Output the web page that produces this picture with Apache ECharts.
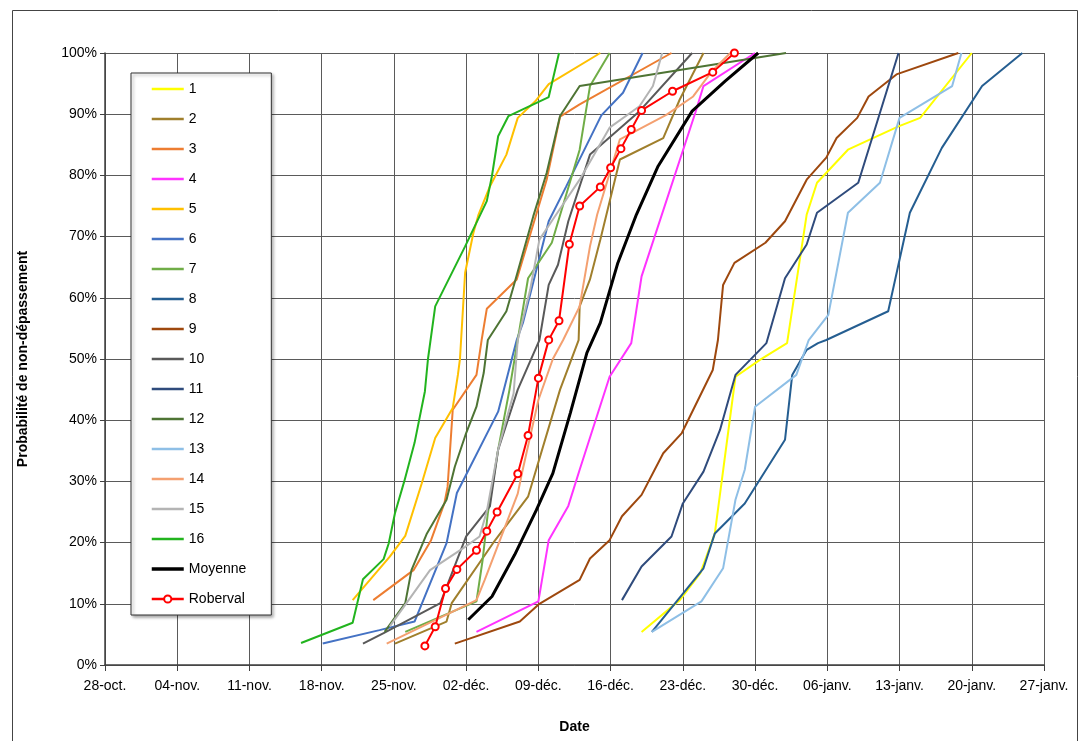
<!DOCTYPE html>
<html>
<head>
<meta charset="utf-8">
<script src="https://cdn.jsdelivr.net/npm/echarts@6/dist/echarts.min.js"></script>
<style>
html,body{margin:0;padding:0;background:#fff;}
#chart{width:1079px;height:741px;}
</style>
</head>
<body>
<div id="chart"></div>
<script>
// x = days since 28-oct, y = probability (%)
const tickLabels = ['28-oct.','04-nov.','11-nov.','18-nov.','25-nov.','02-déc.','09-déc.','16-déc.','23-déc.','30-déc.','06-janv.','13-janv.','20-janv.','27-janv.'];
const seriesNames = ['1','2','3','4','5','6','7','8','9','10','11','12','13','14','15','16','Moyenne','Roberval'];

const s1 = [[52.0,5.4],[55.7,10.6],[57.7,15.0],[59.1,21.5],[61.1,47.1],[63.5,49.9],[66.1,52.6],[68.0,73.6],[69.0,78.8],[72.0,84.2],[76.9,88.0],[79.0,89.4],[84.0,100]];
const s2 = [[28.1,3.5],[33.1,7.1],[33.6,10.1],[37.6,19.9],[41.0,27.5],[44.1,45.0],[45.9,53.1],[46.0,58.6],[47.0,63.0],[48.0,69.5],[49.9,82.6],[54.1,86.1],[55.7,92.4],[58.0,100]];
const s3 = [[26.0,10.6],[29.9,15.5],[31.6,20.4],[32.9,26.5],[33.2,29.1],[33.7,41.7],[36.0,47.4],[36.5,53.1],[37.0,58.2],[39.9,63.0],[42.8,79.3],[44.1,89.6],[46.0,91.6],[54.9,100]];
const s4 = [[36.0,5.4],[42.0,10.4],[43.0,20.4],[44.9,26.0],[46.0,31.9],[48.9,47.1],[51.0,52.6],[52.0,63.5],[57.2,90.2],[58.0,94.6],[63.0,100]];
const s5 = [[24.0,10.6],[27.6,17.7],[29.1,21.1],[30.7,29.7],[32.0,37.1],[33.7,42.0],[34.2,47.4],[34.4,50.0],[34.9,64.1],[35.7,70.6],[36.2,73.6],[37.3,78.2],[38.9,83.4],[40.0,89.4],[41.7,92.1],[43.0,94.9],[48.0,100]];
const s6 = [[21.1,3.5],[26.6,5.7],[30.0,7.1],[33.1,19.9],[34.1,28.1],[38.1,41.4],[39.9,53.1],[40.5,55.9],[43.0,72.5],[44.7,78.2],[48.1,89.8],[50.2,93.5],[52.1,100]];
const s7 = [[29.1,5.4],[36.0,10.4],[36.6,17.2],[37.1,24.8],[38.1,35.2],[39.2,45.0],[40.0,53.1],[41.0,63.2],[43.3,69.0],[46.0,84.2],[47.0,94.6],[48.9,100]];
const s8 = [[53.0,5.4],[58.0,15.8],[59.1,21.5],[62.0,26.4],[65.9,36.8],[66.6,47.4],[68.0,51.5],[69.1,52.6],[69.9,53.1],[75.9,57.8],[78.0,73.9],[81.1,84.5],[85.0,94.6],[88.9,100]];
const s9 = [[33.9,3.5],[40.2,7.1],[42.1,10.0],[46.0,13.9],[47.0,17.4],[48.9,20.4],[50.1,24.3],[52.0,27.8],[54.1,34.6],[55.9,37.9],[58.9,48.2],[59.4,53.1],[59.9,62.1],[61.0,65.7],[64.0,69.0],[65.9,72.5],[68.0,79.3],[69.9,82.9],[70.9,86.1],[72.9,89.4],[74.0,92.9],[76.7,96.5],[82.7,100]];
const s10 = [[25.0,3.5],[27.0,5.2],[32.5,10.1],[35.0,21.0],[37.3,25.9],[38.1,35.2],[40.0,45.0],[42.1,53.1],[43.0,62.1],[43.9,65.4],[44.9,72.5],[47.0,83.4],[51.8,90.5],[56.9,100]];
const s11 = [[50.1,10.6],[52.0,16.1],[54.9,21.0],[56.0,26.4],[58.0,31.6],[59.6,38.4],[61.1,47.4],[64.1,52.6],[65.9,63.2],[68.0,68.7],[69.0,73.9],[73.0,78.8],[76.9,100]];
const s12 = [[27.1,5.4],[29.1,10.1],[29.7,15.5],[31.2,21.5],[33.1,27.0],[33.9,32.4],[35.0,37.9],[36.0,42.2],[36.7,47.7],[37.1,53.1],[38.9,57.8],[39.6,61.9],[41.5,73.3],[42.8,80.4],[44.1,89.7],[46.0,94.6],[66.0,100]];
const s13 = [[53.0,5.4],[57.8,10.4],[59.9,15.8],[61.1,27.0],[62.0,31.9],[63.0,42.2],[67.0,47.4],[68.2,53.1],[70.1,57.2],[72.0,73.9],[75.1,78.8],[77.0,89.4],[82.1,94.6],[83.0,100]];
const s14 = [[27.3,3.5],[36.0,10.6],[36.8,13.9],[40.0,28.0],[40.4,31.3],[42.0,43.3],[43.4,50.0],[44.4,53.1],[46.0,58.6],[47.0,68.4],[47.7,73.6],[49.9,85.9],[54.4,89.9],[57.0,92.9],[58.8,97.0],[60.6,100]];
const s15 = [[27.6,6.3],[31.5,15.5],[34.9,19.3],[36.3,21.0],[37.0,25.1],[38.1,35.2],[39.6,44.4],[40.0,53.1],[41.2,61.3],[42.1,69.5],[43.4,72.8],[46.0,79.3],[48.9,87.8],[51.8,91.3],[53.1,94.6],[54.0,100]];
const s16 = [[19.0,3.6],[24.0,6.9],[25.0,14.0],[27.0,17.3],[27.5,19.9],[28.1,24.8],[29.0,30.0],[30.0,36.3],[31.0,44.7],[31.3,50.0],[32.0,58.6],[34.9,68.4],[37.0,75.8],[37.5,79.9],[38.1,86.4],[39.1,89.7],[43.0,92.8],[44.0,100]];
const moyenne = [[35.2,7.4],[37.5,11.2],[39.7,18.0],[41.8,25.3],[43.4,31.3],[45.1,41.2],[46.7,51.0],[48.0,55.9],[49.7,65.7],[51.5,73.6],[53.6,81.5],[56.9,90.5],[60.1,95.4],[63.3,100]];
const robervalDays = [31.0,32.0,33.0,34.1,36.0,37.0,38.0,40.0,41.0,42.0,43.0,44.0,45.0,46.0,48.0,49.0,50.0,51.0,52.0,55.0,58.9,61.0];
const robervalProb = [3.125,6.25,12.5,15.625,18.75,21.875,25,31.25,37.5,46.875,53.125,56.25,68.75,75,78.125,81.25,84.375,87.5,90.625,93.75,96.875,100];

const seriesData = [s1,s2,s3,s4,s5,s6,s7,s8,s9,s10,s11,s12,s13,s14,s15,s16,moyenne,robervalDays.map((d,i)=>[d,robervalProb[i]])];
const colors = ['#FFFF00','#A07F2C','#ED7D31','#FF33FF','#FFC000','#4472C4','#70AD47','#255E91','#9E480E','#595959','#2F4B7C','#4E7434','#8EBFE6','#F4A070','#B4B4B4','#22B41E','#000000','#FF0000'];

const FONT = "'Liberation Sans', Arial, sans-serif";

const series = seriesData.map((d,i)=>{
  const name = seriesNames[i];
  const isRob = name==='Roberval';
  const isMoy = name==='Moyenne';
  return {
    name, type:'line', data:d,
    symbol: isRob ? 'emptyCircle' : 'none',
    symbolSize: isRob ? 7 : 0,
    showSymbol: isRob,
    z: isRob ? 20 : (isMoy ? 15 : 5),
    lineStyle:{color:colors[i], width: isMoy ? 3 : 2},
    itemStyle:{color:colors[i], borderColor:colors[i], borderWidth:1.5},
    emphasis:{disabled:true},
    animation:false
  };
});

const legendData = seriesNames.map(n => n==='Roberval'
  ? {name:n, lineStyle:{width:2.5}}
  : {name:n, itemStyle:{opacity:0}, lineStyle:{width: n==='Moyenne' ? 3.5 : 2.5}});

const chart = echarts.init(document.getElementById('chart'), null, {renderer:'canvas'});
chart.setOption({
  backgroundColor:'#fff',
  animation:false,
  color: colors,
  grid:{left:105, right:35, top:53, bottom:76, containLabel:false},
  xAxis:{
    type:'value', min:0, max:91, interval:7,
    name:'Date', nameLocation:'middle', nameGap:55,
    nameTextStyle:{fontFamily:FONT, fontSize:14, fontWeight:'bold', color:'#000'},
    axisLine:{show:true, lineStyle:{color:'#404040', width:1.5}},
    axisTick:{show:true, length:6, lineStyle:{color:'#404040'}},
    axisLabel:{fontFamily:FONT, fontSize:14, color:'#000', margin:14,
      formatter:(v)=>tickLabels[Math.round(v/7)] || ''},
    splitLine:{show:true, lineStyle:{color:'#5a5a5a', width:1}}
  },
  yAxis:{
    type:'value', min:0, max:100, interval:10,
    name:'Probabilité de non-dépassement', nameLocation:'middle', nameGap:75,
    nameTextStyle:{fontFamily:FONT, fontSize:14, fontWeight:'bold', color:'#000'},
    axisLine:{show:true, lineStyle:{color:'#404040', width:1.5}},
    axisTick:{show:true, length:5, lineStyle:{color:'#404040'}},
    axisLabel:{fontFamily:FONT, fontSize:14, color:'#000', margin:8, formatter:'{value}%'},
    splitLine:{show:true, lineStyle:{color:'#5a5a5a', width:1}}
  },
  legend:{
    orient:'vertical', left:131, top:73,
    data: legendData,
    itemWidth:32, itemHeight:9, itemGap:16,
    padding:[9,25,9,19],
    backgroundColor:'#fff', borderColor:'#333', borderWidth:1,
    shadowColor:'rgba(0,0,0,0.35)', shadowBlur:3, shadowOffsetX:2, shadowOffsetY:2,
    textStyle:{fontFamily:FONT, fontSize:14, color:'#000'},
    selectedMode:false
  },
  graphic:[{type:'rect', left:10, top:8, shape:{x:0,y:0,width:1065,height:740},
    style:{fill:'none', stroke:'#444', lineWidth:1}, silent:true, z:-1}],
  series
});
</script>
</body>
</html>
